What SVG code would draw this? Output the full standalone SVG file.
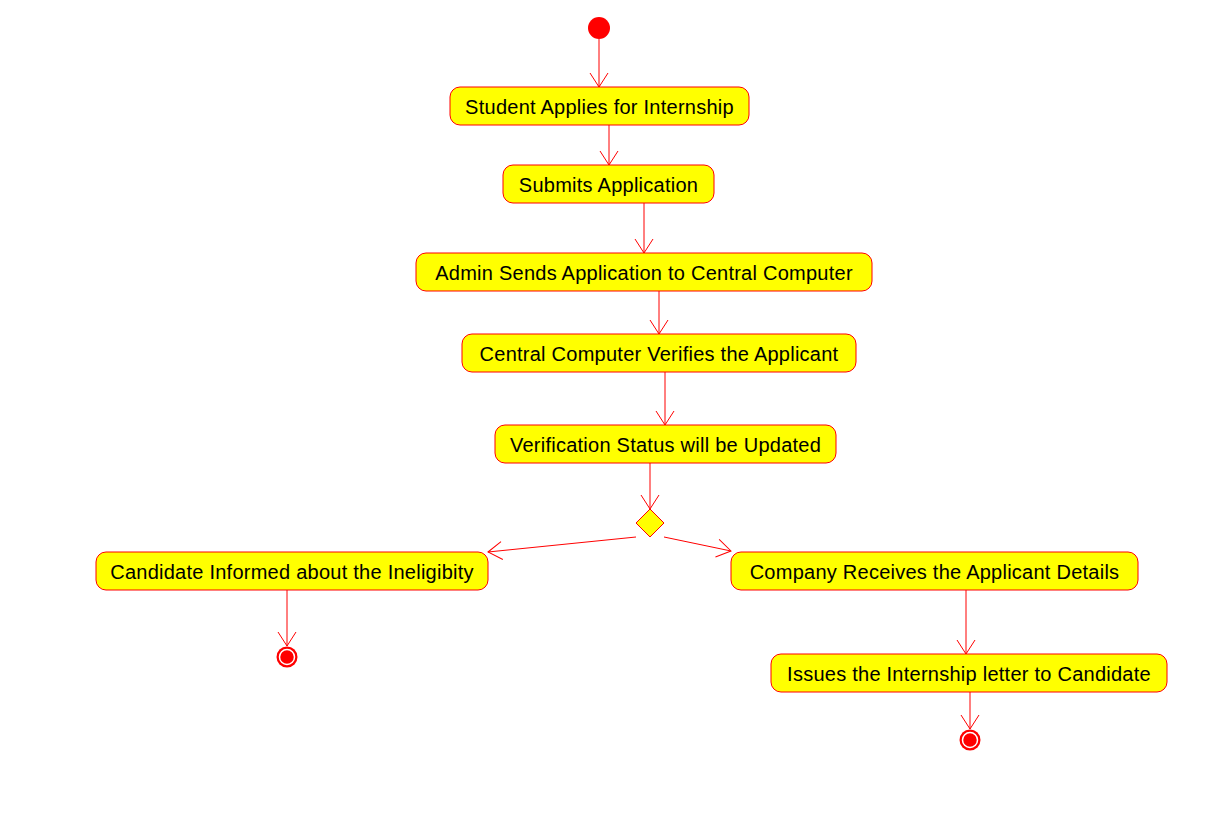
<svg xmlns="http://www.w3.org/2000/svg" width="1227" height="816" viewBox="0 0 1227 816">
<style>
.box{fill:#FFFF00;stroke:#FF0000;stroke-width:1}
.t{font-family:"Liberation Sans",Arial,sans-serif;font-size:20px;letter-spacing:0.25px;fill:#000;text-anchor:middle;dominant-baseline:central}
.c{stroke:#FF0000;stroke-width:1;fill:none}
</style>
<defs>
<marker id="ah" markerWidth="18" markerHeight="22" refX="15" refY="11" orient="auto" markerUnits="userSpaceOnUse">
<path d="M1,2 L15,11 L1,20" fill="none" stroke="#FF0000" stroke-width="1"/>
</marker>
</defs>
<rect width="1227" height="816" fill="#fff"/>
<g id="connectors">
<line class="c" x1="599" y1="39" x2="599" y2="87" marker-end="url(#ah)"/>
<line class="c" x1="609" y1="125" x2="609" y2="165" marker-end="url(#ah)"/>
<line class="c" x1="644" y1="203" x2="644" y2="253" marker-end="url(#ah)"/>
<line class="c" x1="659" y1="291" x2="659" y2="334" marker-end="url(#ah)"/>
<line class="c" x1="665" y1="372" x2="665" y2="425" marker-end="url(#ah)"/>
<line class="c" x1="650" y1="463" x2="650" y2="509" marker-end="url(#ah)"/>
<line class="c" x1="636" y1="537" x2="488" y2="552" marker-end="url(#ah)"/>
<line class="c" x1="664" y1="537" x2="731" y2="551" marker-end="url(#ah)"/>
<line class="c" x1="287" y1="590" x2="287" y2="646" marker-end="url(#ah)"/>
<line class="c" x1="966" y1="590" x2="966" y2="654" marker-end="url(#ah)"/>
<line class="c" x1="970" y1="692" x2="970" y2="729" marker-end="url(#ah)"/>
</g>
<g id="start"><circle cx="599" cy="28" r="11" fill="#FF0000"/></g>
<g id="n1"><rect class="box" x="450" y="87" width="299" height="38" rx="10"/><text class="t" x="599.5" y="106.5">Student Applies for Internship</text></g>
<g id="n2"><rect class="box" x="503" y="165" width="211" height="38" rx="10"/><text class="t" x="608.5" y="184.5">Submits Application</text></g>
<g id="n3"><rect class="box" x="416" y="253" width="456" height="38" rx="10"/><text class="t" x="644" y="272.5">Admin Sends Application to Central Computer</text></g>
<g id="n4"><rect class="box" x="462" y="334" width="394" height="38" rx="10"/><text class="t" x="659" y="353.5">Central Computer Verifies the Applicant</text></g>
<g id="n5"><rect class="box" x="495" y="425" width="341" height="38" rx="10"/><text class="t" x="665.5" y="444.5">Verification Status will be Updated</text></g>
<g id="decision"><polygon points="650,509 664,523 650,537 636,523" fill="#FFFF00" stroke="#FF0000" stroke-width="1"/></g>
<g id="n6"><rect class="box" x="96" y="552" width="392" height="38" rx="10"/><text class="t" x="292" y="571.5">Candidate Informed about the Ineligibity</text></g>
<g id="n7"><rect class="box" x="731" y="552" width="407" height="38" rx="10"/><text class="t" x="934.5" y="571.5">Company Receives the Applicant Details</text></g>
<g id="n8"><rect class="box" x="771" y="654" width="396" height="38" rx="10"/><text class="t" x="969" y="673.5">Issues the Internship letter to Candidate</text></g>
<g id="end1"><circle cx="287" cy="657" r="10.5" fill="#FF0000"/><circle cx="287" cy="657" r="7.5" fill="none" stroke="#fff" stroke-width="1.5"/></g>
<g id="end2"><circle cx="970" cy="740" r="10.5" fill="#FF0000"/><circle cx="970" cy="740" r="7.5" fill="none" stroke="#fff" stroke-width="1.5"/></g>
</svg>
